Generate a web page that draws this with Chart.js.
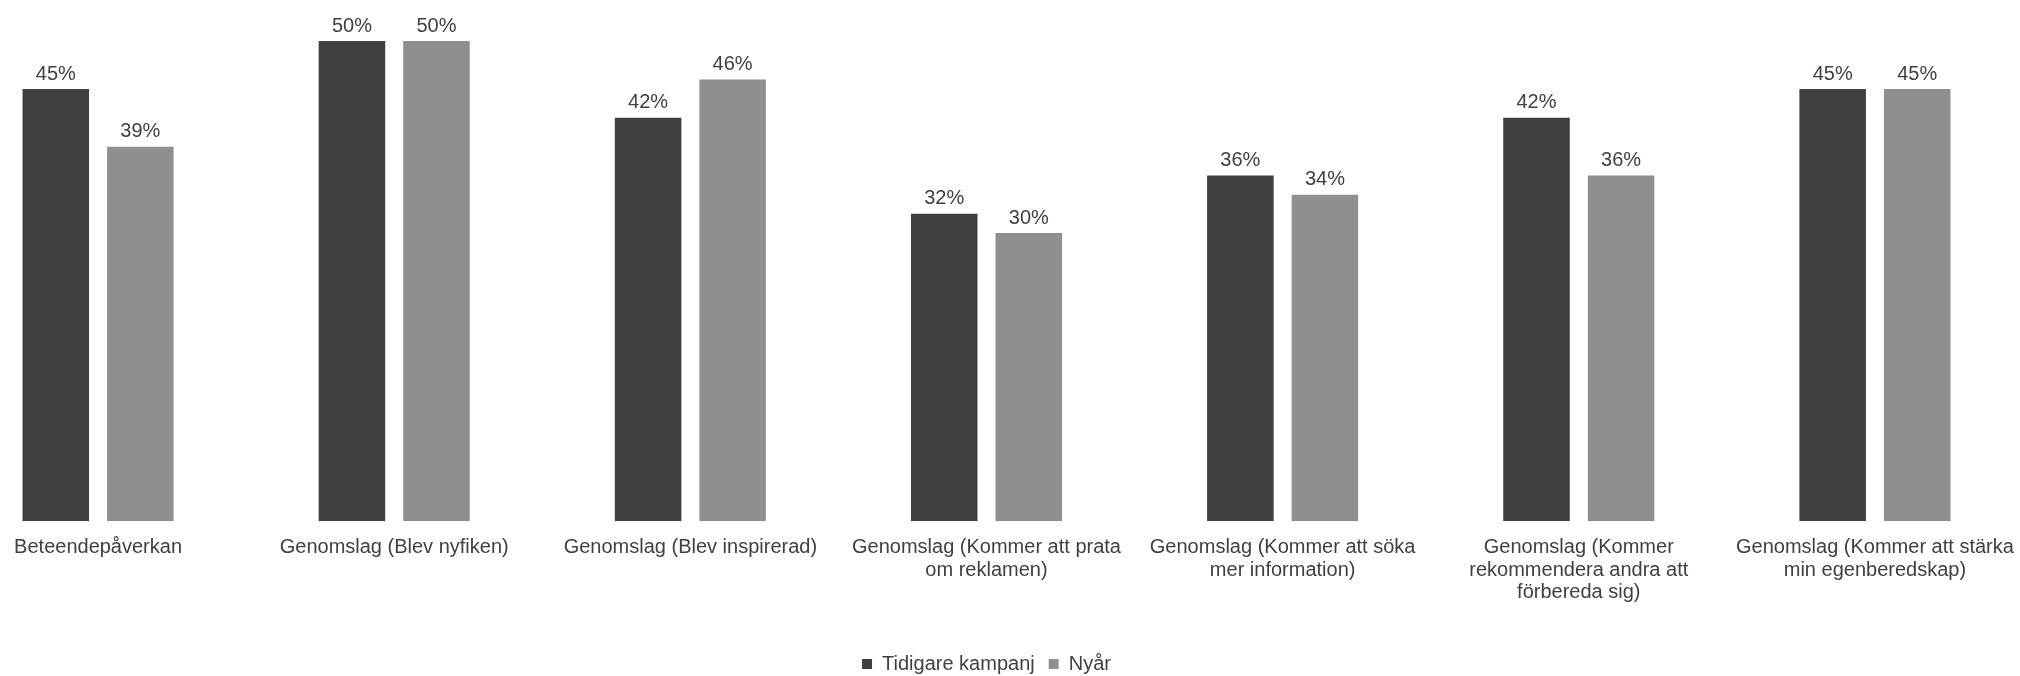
<!DOCTYPE html>
<html>
<head>
<meta charset="utf-8">
<script src="https://cdn.jsdelivr.net/npm/chart.js@4/dist/chart.umd.min.js"></script>
<style>
  html, body { margin: 0; padding: 0; background: #ffffff; overflow: hidden; }
  #frame { position: relative; width: 2020px; height: 676px; overflow: hidden; }
  #wrap { position: absolute; left: -50px; top: 0; width: 2073px; height: 676px; }
</style>
</head>
<body>
<div id="frame"><div id="wrap"><canvas id="chart"></canvas></div></div>
<script>
// Category labels (wrapped as they appear under the bars)
const categories = [
  ["Beteendepåverkan"],
  ["Genomslag (Blev nyfiken)"],
  ["Genomslag (Blev inspirerad)"],
  ["Genomslag (Kommer att prata", "om reklamen)"],
  ["Genomslag (Kommer att söka", "mer information)"],
  ["Genomslag (Kommer", "rekommendera andra att", "förbereda sig)"],
  ["Genomslag (Kommer att stärka", "min egenberedskap)"]
];

// Share of respondents, percent
const tidigareKampanj = [45, 50, 42, 32, 36, 42, 45];
const nyar = [39, 50, 46, 30, 34, 36, 45];

const seriesNames = ["Tidigare kampanj", "Nyår"];
const textColor = "#404040";
const fontFamily = "'Liberation Sans', Arial, sans-serif";

// Draws the percentage above every bar
const valueLabels = {
  id: "valueLabels",
  afterDatasetsDraw(chart) {
    const ctx = chart.ctx;
    ctx.save();
    ctx.font = "20px " + fontFamily;
    ctx.fillStyle = textColor;
    ctx.textAlign = "center";
    ctx.textBaseline = "bottom";
    chart.data.datasets.forEach((ds, i) => {
      const meta = chart.getDatasetMeta(i);
      meta.data.forEach((bar, j) => {
        ctx.fillText(ds.data[j] + "%", bar.x, bar.y - 5);
      });
    });
    ctx.restore();
  }
};

new Chart(document.getElementById("chart"), {
  type: "bar",
  data: {
    labels: categories,
    datasets: [
      {
        label: seriesNames[0],
        data: tidigareKampanj,
        backgroundColor: "#3f3f3f",
        categoryPercentage: 0.571,
        barPercentage: 0.787
      },
      {
        label: seriesNames[1],
        data: nyar,
        backgroundColor: "#8f8f8f",
        categoryPercentage: 0.571,
        barPercentage: 0.787
      }
    ]
  },
  options: {
    responsive: true,
    maintainAspectRatio: false,
    animation: false,
    layout: { padding: { top: 41, left: 0, right: 0, bottom: -8 } },
    scales: {
      x: {
        grid: { display: false },
        border: { display: false },
        ticks: {
          color: textColor,
          font: { family: fontFamily, size: 20, lineHeight: 1.13 },
          padding: 7,
          maxRotation: 0,
          autoSkip: false
        },
        afterFit(scale) { scale.height += 29; }
      },
      y: {
        display: false,
        min: 0,
        max: 50
      }
    },
    plugins: {
      legend: {
        position: "bottom",
        labels: {
          color: textColor,
          font: { family: fontFamily, size: 20 },
          boxWidth: 10,
          boxHeight: 10,
          padding: 14
        }
      },
      tooltip: { enabled: false }
    }
  },
  plugins: [valueLabels]
});
</script>
</body>
</html>
